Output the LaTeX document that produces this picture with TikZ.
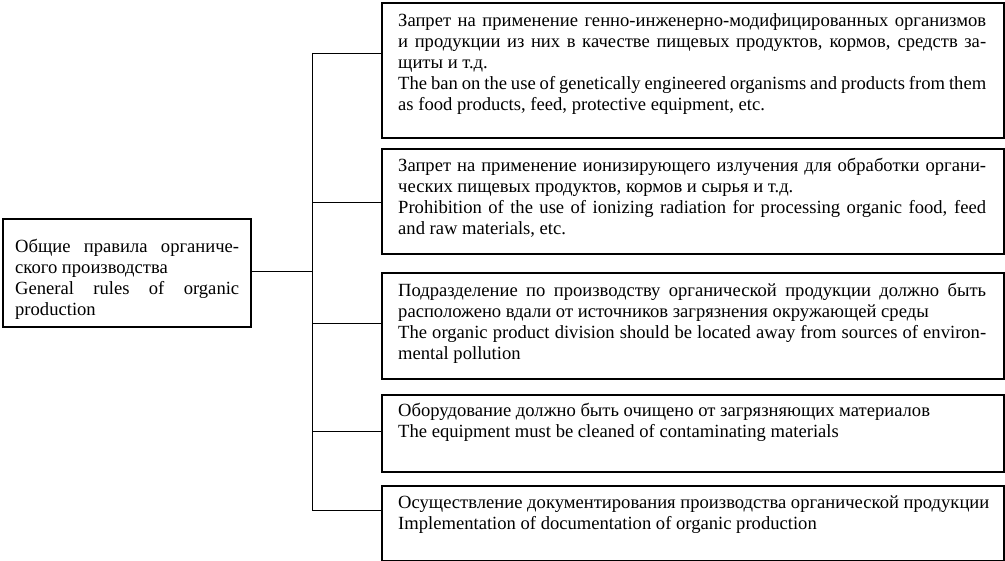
\documentclass[tikz,border=0pt]{standalone}
\usepackage{fontspec}
\setmainfont{Liberation Serif}
\newcommand\jl[1]{\hbox to\hsize{#1}}
\newcommand\nl[1]{\hbox{#1}}
\newcommand\txtblock[2]{\vtop{\hsize=#1\baselineskip=21pt\lineskiplimit=-20pt #2}}
\begin{document}
\begin{tikzpicture}[x=1pt,y=-1pt,
  box/.style={draw,line width=1.6pt,inner sep=0pt,anchor=north west},
  txt/.style={inner sep=0pt,anchor=base west,font=\fontsize{18.6}{21}\selectfont},
  conn/.style={line width=0.9pt}]
\useasboundingbox (0,0) rectangle (1005,561);
% boxes
\node[box,minimum width=248pt,minimum height=108pt] (L) at (2,218) {};
\node[box,minimum width=622pt,minimum height=135pt] (b1) at (381,2) {};
\node[box,minimum width=622pt,minimum height=105pt] (b2) at (381,148) {};
\node[box,minimum width=622pt,minimum height=106pt] (b3) at (381,272) {};
\node[box,minimum width=622pt,minimum height=77pt] (b4) at (381,394) {};
\node[box,minimum width=622pt,minimum height=75pt] (b5) at (381,485) {};
% texts
\node[txt] (tL) at (15,253) {\txtblock{224pt}{%
\jl{Общие правила органиче-}
\nl{ского производства}
\jl{General rules of organic}
\nl{production}}};
\node[txt] (t1) at (398,27) {\txtblock{588pt}{%
\jl{Запрет на применение генно-инженерно-модифицированных организмов}
\jl{и продукции из них в качестве пищевых продуктов, кормов, средств за-}
\nl{щиты и т.д.}
\jl{The ban on the use of genetically engineered organisms and products from them}
\nl{as food products, feed, protective equipment, etc.}}};
\node[txt] (t2) at (398,172) {\txtblock{588pt}{%
\jl{Запрет на применение ионизирующего излучения для обработки органи-}
\nl{ческих пищевых продуктов, кормов и сырья и т.д.}
\jl{Prohibition of the use of ionizing radiation for processing organic food, feed}
\nl{and raw materials, etc.}}};
\node[txt] (t3) at (398,297) {\txtblock{588pt}{%
\jl{Подразделение по производству органической продукции должно быть}
\nl{расположено вдали от источников загрязнения окружающей среды}
\jl{The organic product division should be located away from sources of environ-}
\nl{mental pollution}}};
\node[txt] (t4) at (398,417) {\txtblock{588pt}{%
\nl{Оборудование должно быть очищено от загрязняющих материалов}
\nl{The equipment must be cleaned of contaminating materials}}};
\node[txt] (t5) at (398,508) {\txtblock{588pt}{%
\nl{Осуществление документирования производства органической продукции}
\nl{Implementation of documentation of organic production}}};
% connectors
\coordinate (top) at (312,53);
\coordinate (bot) at (312,510);
\coordinate (mid) at (312,271);
\draw[conn] (top) -- (bot);
\draw[conn] (L.east |- mid) -- (mid);
\draw[conn] (top) -- (top -| b1.west);
\draw[conn] (b2.west |- 0,202) -- (312,202);
\draw[conn] (b3.west |- 0,323) -- (312,323);
\draw[conn] (b4.west |- 0,431) -- (312,431);
\draw[conn] (bot) -- (bot -| b5.west);
\end{tikzpicture}
\end{document}
